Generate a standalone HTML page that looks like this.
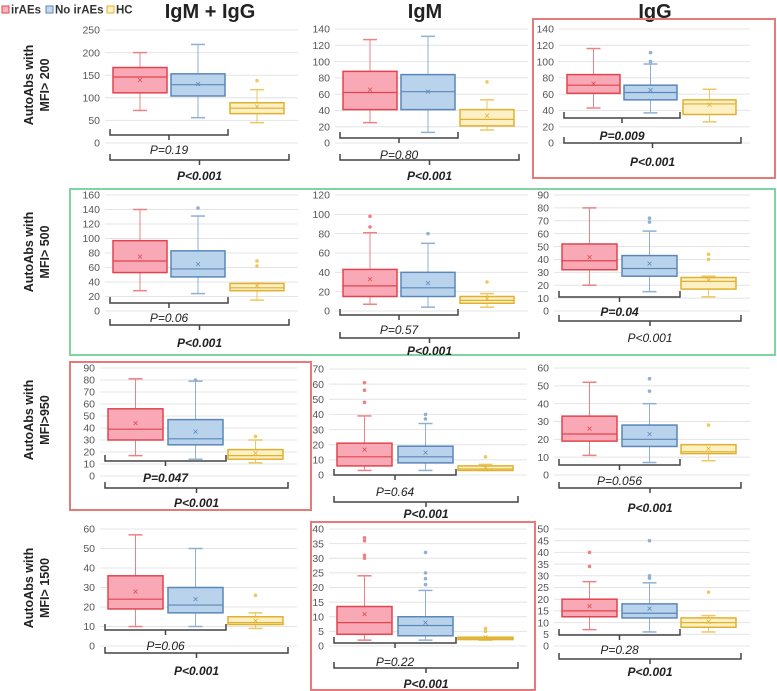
<!DOCTYPE html>
<html><head><meta charset="utf-8"><style>
body{margin:0;background:#fff;width:777px;height:691px;overflow:hidden;font-family:"Liberation Sans",sans-serif}
svg{display:block}
</style></head><body>
<svg id="fig" width="777" height="691" viewBox="0 0 777 691" xmlns="http://www.w3.org/2000/svg">
<g font-size="11.5" font-weight="bold" fill="#333">
<rect x="2" y="6" width="7" height="7" fill="#f9b4c0" stroke="#e0454f"/>
<text x="11" y="13.5">irAEs</text>
<rect x="46" y="6" width="7" height="7" fill="#c3d8ee" stroke="#5b87b8"/>
<text x="55" y="13.5">No irAEs</text>
<rect x="107" y="6" width="7" height="7" fill="#fdf0c4" stroke="#e0b030"/>
<text x="116" y="13.5">HC</text>
</g>
<g font-size="20" font-weight="bold" fill="#222" text-anchor="middle">
<text x="210" y="18">IgM + IgG</text>
<text x="425" y="18">IgM</text>
<text x="655" y="18">IgG</text>
</g>
<g font-size="12.5" font-weight="bold" fill="#222" text-anchor="middle">
<text transform="translate(33,85) rotate(-90)"><tspan x="0" y="0">AutoAbs with</tspan><tspan x="0" y="16">MFI&gt; 200</tspan></text>
<text transform="translate(33,252) rotate(-90)"><tspan x="0" y="0">AutoAbs with</tspan><tspan x="0" y="16">MFI&gt; 500</tspan></text>
<text transform="translate(33,420) rotate(-90)"><tspan x="0" y="0">AutoAbs with</tspan><tspan x="0" y="16">MFI&gt;950</tspan></text>
<text transform="translate(33,588) rotate(-90)"><tspan x="0" y="0">AutoAbs with</tspan><tspan x="0" y="16">MFI&gt; 1500</tspan></text>
</g>
<g fill="none" stroke-width="2">
<rect x="533" y="19" width="242" height="159" stroke="#e57a7a"/>
<rect x="70" y="189" width="705" height="166" stroke="#7fd4a0"/>
<rect x="70" y="362" width="241" height="148" stroke="#e57a7a"/>
<rect x="311" y="522" width="224" height="168" stroke="#e57a7a"/>
</g>
<g id="panels"></g>
</svg>
<script>
// group stats: [whiskerLow, q1, median, q3, whiskerHigh, mean]
const groups = ["irAEs", "No irAEs", "HC"];
const r1c0 = [[72,111,146,167,200,139],[56,104,129,153,218,130],[45,65,77,89,118,81]];
const r1c1 = [[25,41,62,88,127,66],[13,41,63,84,131,63],[16,21,29,41,53,34]];
const r1c2 = [[43,61,71,84,116,73],[37,53,62,71,97,65],[26,35,48,53,66,47]];
const r2c0 = [[28,53,69,97,140,75],[24,47,58,83,131,65],[15,28,32,38,38,35]];
const r2c1 = [[7,15,26,43,81,33],[4,15,24,40,70,29],[4,8,11,15,18,13]];
const r2c2 = [[20,32,39,52,80,42],[15,27,33,43,62,37],[11,17,23,26,27,24]];
const r3c0 = [[17,30,39,56,81,44],[14,26,31,47,79,37],[11,14,17,22,30,19]];
const r3c1 = [[3,6,12,21,39,17],[3,8,12,19,34,15],[3,3,4,6,7,5]];
const r3c2 = [[11,19,23,33,52,26],[7,16,20,28,40,23],[8,12,13,17,17,15]];
const r4c0 = [[10,19,24,36,57,28],[10,17,21,30,50,24],[9,11,12,15,17,13]];
const r4c1 = [[2,4,8,13.5,24,11],[2,3.5,7,10,19,8],[2,2.2,2.5,3,3,3]];
const r4c2 = [[7,12.5,15,20,27.5,17],[6,12,14,18,27,16],[6,8,10,12,13,10.5]];
// outliers per group
const o1c0 = [[],[],[138]];
const o1c1 = [[],[],[75]];
const o1c2 = [[],[100,111],[]];
const o2c0 = [[],[142],[62,69]];
const o2c1 = [[87,98],[80],[30]];
const o2c2 = [[],[69,72],[40,44]];
const o3c0 = [[],[80],[33]];
const o3c1 = [[48,56,61],[37,40],[12]];
const o3c2 = [[],[47,54],[28]];
const o4c0 = [[],[],[26]];
const o4c1 = [[30,31,36,37],[21,23,25,32],[5,6]];
const o4c2 = [[34,40],[29,30,45],[23]];
// axis maxima and tick steps
const axisMax = [250,140,140,160,120,90,90,70,60,60,40,50];
const axisStep = [50,20,20,20,20,10,10,10,10,10,5,5];
// p-value labels
const pSmall = ["P=0.19","P=0.80","P=0.009","P=0.06","P=0.57","P=0.04","P=0.047","P=0.64","P=0.056","P=0.06","P=0.22","P=0.28"];
const pLarge = ["P<0.001","P<0.001","P<0.001","P<0.001","P<0.001","P<0.001","P<0.001","P<0.001","P<0.001","P<0.001","P<0.001","P<0.001"];

const stats=[r1c0,r1c1,r1c2,r2c0,r2c1,r2c2,r3c0,r3c1,r3c2,r4c0,r4c1,r4c2];
const outs=[o1c0,o1c1,o1c2,o2c0,o2c1,o2c2,o3c0,o3c1,o3c2,o4c0,o4c1,o4c2];
const layout=[
 [30,143,[113,171,230],54,135,150,0,160,176,1],
 [29,143,[343,401,460],54,138,155,0,160,176,1],
 [29,143,[567,624,683],53,118,136,1,143,162,1],
 [195,311,[113,171,230],54,303,318,0,325,343,1],
 [195,311,[343,401,460],54,315,330,0,338,351,1],
 [195,311,[562,622,681],55,297,312,1,321,338,0],
 [368,476,[108,168,228],55,461,478,1,488,503,1],
 [369,475,[337,398,458],55,475,492,0,502,514,1],
 [368,475,[562,622,681],55,465,481,0,488,508,1],
 [529,646,[108,168,228],55,630,646,0,653,671,1],
 [529,646,[337,398,458],55,643,662,0,668,684,1],
 [529,646,[562,622,681],55,635,650,0,659,672,1]];
const fills=["#f9a8b6","#bad3ec","#fdf0c4"], strokes=["#e0454f","#5b87b8","#e0b030"], lite=["#ee8088","#8fb0d4","#ecc860"];
const NS="http://www.w3.org/2000/svg";
const root=document.getElementById("panels");
function mk(tag,attrs,parent){const e=document.createElementNS(NS,tag);for(const k in attrs)e.setAttribute(k,attrs[k]);parent.appendChild(e);return e;}
for(let p=0;p<12;p++){
 const [top,zero,lefts,bw,sy,sty,sb,ly,lty,lb]=layout[p];
 const max=axisMax[p], step=axisStep[p];
 const y=v=>zero-v/max*(zero-top);
 const pl=lefts[0]-8, pr=lefts[2]+bw+14;
 const g=mk("g",{},root);
 
 
 for(let v=0;v<=max+1e-9;v+=step){
  const gl=mk("line",{x1:pl,x2:pr,y1:y(v),y2:y(v),stroke:"#e4e4e4","stroke-width":1},g);
  
  
  const t=mk("text",{x:pl-5,y:y(v)+3.7,"font-size":10.5,fill:"#555","text-anchor":"end"},g);
  
  
  t.textContent=v;
 }
 for(let k=0;k<3;k++){
  const s=stats[p][k], x0=lefts[k], cx=x0+bw/2;
  const bg=mk("g",{},g);
  
  
  mk("line",{x1:cx,x2:cx,y1:y(s[0]),y2:y(s[1]),stroke:lite[k]},bg);
  mk("line",{x1:cx,x2:cx,y1:y(s[3]),y2:y(s[4]),stroke:lite[k]},bg);
  mk("line",{x1:cx-7,x2:cx+7,y1:y(s[0]),y2:y(s[0]),stroke:lite[k],"stroke-width":1.5},bg);
  mk("line",{x1:cx-7,x2:cx+7,y1:y(s[4]),y2:y(s[4]),stroke:lite[k],"stroke-width":1.5},bg);
  mk("rect",{x:x0,y:y(s[3]),width:bw,height:Math.max(1,y(s[1])-y(s[3])),fill:fills[k],stroke:strokes[k],"stroke-width":1.5},bg);
  mk("line",{x1:x0,x2:x0+bw,y1:y(s[2]),y2:y(s[2]),stroke:strokes[k],"stroke-width":1.2},bg);
  const m=mk("text",{x:cx,y:y(s[5])+3.5,"font-size":10,fill:strokes[k],"text-anchor":"middle"},bg);
  
  
  m.textContent="×";
  for(const ov of outs[p][k]){
   const c=mk("circle",{cx:cx,cy:y(ov),r:1.8,fill:lite[k]},bg);
   
   
  }
 }
 const bx1=lefts[0]-3, bx2=lefts[1]+bw+3, bx3=lefts[2]+bw+5;
 const br=(a,b,yy,name)=>{const e=mk("path",{d:`M${a} ${yy-6}V${yy}H${b}V${yy-6}M${(a+b)/2} ${yy}v5`,fill:"none",stroke:"#444","stroke-width":1.5},g);};
 br(bx1,bx2,sy,'bracket-irAEs-vs-no-irAEs');
 br(bx1,bx3,ly,'bracket-patients-vs-hc');
 const t1=mk("text",{x:(bx1+bx2)/2,y:sty+4,"font-size":12,"font-style":"italic","font-weight":sb?"bold":"normal",fill:"#222","text-anchor":"middle"},g);
 
 
 t1.textContent=pSmall[p];
 const t2=mk("text",{x:(bx1+bx3)/2,y:lty+4,"font-size":12,"font-style":"italic","font-weight":lb?"bold":"normal",fill:"#222","text-anchor":"middle"},g);
 
 
 t2.textContent=pLarge[p];
}
</script>
</body></html>
